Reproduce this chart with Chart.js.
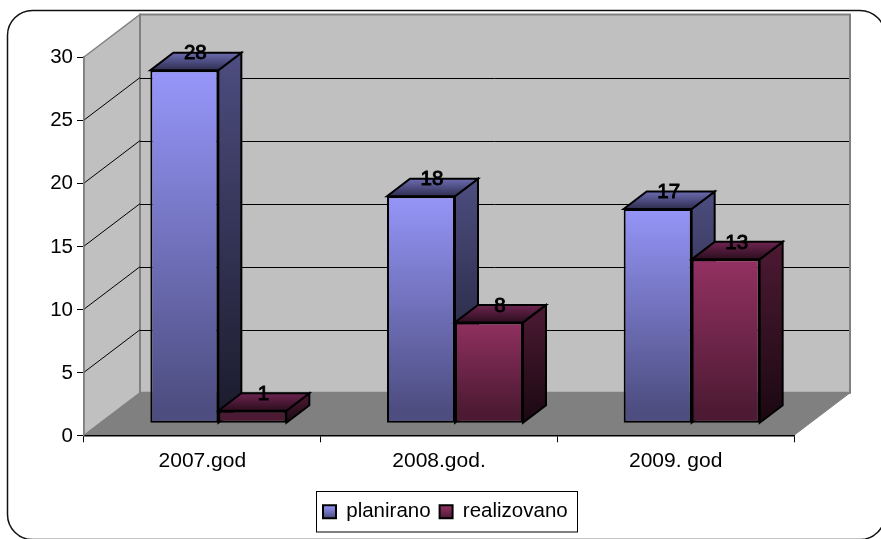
<!DOCTYPE html>
<html>
<head>
<meta charset="utf-8">
<style>html,body{margin:0;padding:0;background:#fff;overflow:hidden}canvas{display:block}</style>
<script src="https://cdn.jsdelivr.net/npm/chart.js@4/dist/chart.umd.min.js"></script>
</head>
<body>
<canvas id="c" width="881" height="539"></canvas>
<script>
const categories = ['2007.god', '2008.god.', '2009. god'];
const planirano = [28, 18, 17];
const realizovano = [1, 8, 13];
const yTicks = [0, 5, 10, 15, 20, 25, 30];

const FONT = 'Liberation Sans, Arial, sans-serif';
const WALL = {dx: 56, dy: -42.5};   // depth of the whole plot box
const FRONT = {dx: 16, dy: -12};    // bar front plane vs. axis plane
const BAR = {dx: 23, dy: -17.5};    // depth of a bar
const PAL = [
  {front: ['#9999ff', '#4d4d80'], side: ['#4d4d80', '#1a1a2b'], top: ['#6c6cb2', '#2e2e50']},
  {front: ['#993366', '#4d1a33'], side: ['#4d1a33', '#1a0811'], top: ['#6e2450', '#2b0e1e']}
];
function grad(ctx, y0, y1, cols) {
  const g = ctx.createLinearGradient(0, y0, 0, y1);
  g.addColorStop(0, cols[0]); g.addColorStop(1, cols[1]);
  return g;
}
function poly(ctx, pts, fill, stroke, lw) {
  ctx.beginPath();
  pts.forEach((p, i) => i ? ctx.lineTo(p[0], p[1]) : ctx.moveTo(p[0], p[1]));
  ctx.closePath();
  if (fill) { ctx.fillStyle = fill; ctx.fill(); }
  if (stroke) { ctx.strokeStyle = stroke; ctx.lineWidth = lw; ctx.lineJoin = 'miter'; ctx.stroke(); }
}
const box3d = {
  id: 'box3d',
  beforeDraw(chart) {
    const ctx = chart.ctx, a = chart.chartArea, y = chart.scales.y;
    ctx.save();
    ctx.fillStyle = '#fff';
    ctx.fillRect(0, 0, chart.width, chart.height);
    // outer frame
    ctx.beginPath();
    ctx.roundRect(7.5, 10.5, 877.5, 529, 25);
    ctx.strokeStyle = '#111'; ctx.lineWidth = 1.5; ctx.stroke();
    const l = a.left, r = a.right, t = a.top, b = a.bottom, dx = WALL.dx, dy = WALL.dy;
    // floor, side wall, back wall
    poly(ctx, [[l, b], [l + dx, b + dy], [r + dx, b + dy], [r, b]], '#808080', '#808080', 1);
    poly(ctx, [[l, t], [l + dx, t + dy], [l + dx, b + dy], [l, b]], '#c0c0c0', '#808080', 1.5);
    poly(ctx, [[l + dx, t + dy], [r + dx, t + dy], [r + dx, b + dy], [l + dx, b + dy]], '#c0c0c0', '#808080', 2);
    // grid lines on walls
    ctx.strokeStyle = '#000'; ctx.lineWidth = 1;
    yTicks.forEach(v => {
      if (v === 0 || v === 30) return;
      const p = y.getPixelForValue(v);
      ctx.beginPath();
      ctx.moveTo(l, p); ctx.lineTo(l + dx, p + dy);
      ctx.moveTo(l + dx, Math.round(p + dy) + 0.5); ctx.lineTo(r + dx - 1, Math.round(p + dy) + 0.5);
      ctx.stroke();
    });
    // legend frame
    ctx.fillStyle = '#fff';
    ctx.fillRect(316.5, 491.5, 261, 40.5);
    ctx.strokeStyle = '#000'; ctx.lineWidth = 1;
    ctx.strokeRect(316.5, 491.5, 261, 40.5);
    ctx.restore();
  },
  afterLayout(chart) {
    const lg = chart.legend;
    const w = lg.right - lg.left;
    lg.left = 314; lg.right = 314 + w; lg.top = 492.5;
    lg.bottom = 534;
  },
  beforeDatasetsDraw(chart) {
    const ctx = chart.ctx, n = chart.data.datasets.length;
    // series are painted left to right, so each front hides the side of the one before it
    for (let i = 0; i < n; i++) {
      const pal = PAL[i], meta = chart.getDatasetMeta(i);
      ctx.save();
      meta.data.forEach(el => {
        const xl = el.x - el.width / 2 + FRONT.dx, xr = xl + el.width;
        const top = el.y + FRONT.dy, base = el.base + FRONT.dy;
        poly(ctx, [[xr, top], [xr + BAR.dx, top + BAR.dy], [xr + BAR.dx, base + BAR.dy], [xr, base]],
          grad(ctx, top + BAR.dy, base, pal.side), '#000', 2);
        poly(ctx, [[xl, top], [xl + BAR.dx, top + BAR.dy], [xr + BAR.dx, top + BAR.dy], [xr, top]],
          grad(ctx, top + BAR.dy, top, pal.top), '#000', 2);
      });
      ctx.translate(FRONT.dx, FRONT.dy);
      meta.controller.draw();
      ctx.restore();
    }
    ctx.save();
    ctx.font = '20.5px ' + FONT;
    ctx.textAlign = 'center'; ctx.textBaseline = 'middle';
    ctx.fillStyle = '#000'; ctx.strokeStyle = '#000'; ctx.lineWidth = 0.9;
    chart.data.datasets.forEach((ds, i) => {
      chart.getDatasetMeta(i).data.forEach((el, j) => {
        const x = el.x + FRONT.dx + BAR.dx / 2 - 0.5, y = el.y + FRONT.dy + BAR.dy + 1;
        ctx.fillText(String(ds.data[j]), x, y);
        ctx.strokeText(String(ds.data[j]), x, y);
      });
    });
    ctx.restore();
    return false;
  }
};
function frontFill(i) {
  return c => {
    const ch = c.chart, s = ch.scales.y;
    if (!ch.chartArea || !c.parsed) return PAL[i].front[0];
    return grad(ch.ctx, s.getPixelForValue(c.parsed.y) + FRONT.dy, s.getPixelForValue(0) + FRONT.dy, PAL[i].front);
  };
}
new Chart(document.getElementById('c'), {
  type: 'bar',
  plugins: [box3d],
  data: {
    labels: categories,
    datasets: [
      {label: 'planirano', data: planirano, backgroundColor: frontFill(0), borderColor: '#000', borderWidth: 2, borderSkipped: false, clip: false},
      {label: 'realizovano', data: realizovano, backgroundColor: frontFill(1), borderColor: '#000', borderWidth: 2, borderSkipped: false, clip: false}
    ]
  },
  options: {
    responsive: false,
    animation: false,
    layout: {padding: {left: 0, right: 87, top: 57, bottom: 0}},
    datasets: {bar: {categoryPercentage: 0.5746, barPercentage: 1}},
    plugins: {
      tooltip: {enabled: false},
      legend: {
        position: 'bottom',
        align: 'start',
        labels: {
          font: {family: FONT, size: 20.5},
          color: '#000',
          boxWidth: 13, boxHeight: 13, padding: 9,
          generateLabels(chart) {
            return chart.data.datasets.map((d, i) => ({
              text: d.label, datasetIndex: i, lineWidth: 2, strokeStyle: '#000',
              fillStyle: grad(chart.ctx, 505, 518, PAL[i].front)
            }));
          }
        }
      }
    },
    scales: {
      x: {
        afterFit(s) { s.height = 64.2; },
        grid: {drawOnChartArea: false, color: '#000', tickLength: 7},
        border: {color: '#000', width: 1.5},
        ticks: {font: {family: FONT, size: 21}, color: '#000', padding: 6.3, maxRotation: 0}
      },
      y: {
        min: 0, max: 30,
        afterFit(s) { s.width = 84; },
        grid: {drawOnChartArea: false, color: '#000', tickLength: 7},
        border: {color: '#808080', width: 1.5},
        ticks: {font: {family: FONT, size: 20.5}, color: '#000', padding: 4, stepSize: 5, labelOffset: 0.7}
      }
    }
  }
});
</script>
</body>
</html>
